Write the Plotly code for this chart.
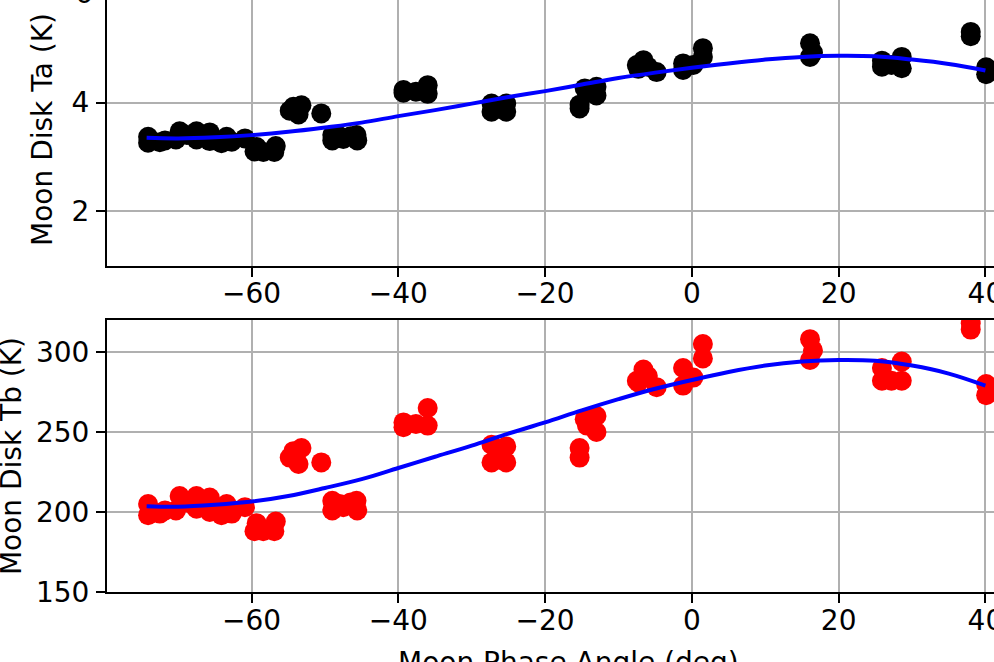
import plotly.graph_objects as go

# ---- data ----
phase = [-74.1, -74.1, -72.5, -71.8, -70.3, -69.8, -68.8, -67.5, -67.5, -66.5, -65.7, -65.7, -64.1, -63.4, -62.7, -60.9,
         -59.6, -59.3, -58.4, -56.9, -56.7,
         -54.8, -54.3, -53.6, -53.2, -50.5,
         -49.0, -49.0, -48.0, -47.5, -46.5, -45.7, -45.6,
         -39.3, -39.3, -37.6, -36.0, -36.0,
         -27.3, -27.3, -26.3, -25.3, -25.3,
         -15.3, -15.3,
         -14.6, -14.3, -13.0, -13.0,
         -7.5, -7.3, -6.6, -6.0, -4.8,
         -1.2, -1.2, 0.2,
         1.5, 1.5,
         16.1, 16.1, 16.5,
         25.9, 25.9, 27.2, 28.6, 28.6,
         38.0, 38.0,
         40.1, 40.1]
ta = [3.37, 3.26, 3.27, 3.30, 3.32, 3.47, 3.40, 3.47, 3.32, 3.38, 3.45, 3.29, 3.25, 3.37, 3.28, 3.34,
      3.10, 3.18, 3.09, 3.09, 3.20,
      3.85, 3.92, 3.78, 3.95, 3.80,
      3.40, 3.30, 3.38, 3.33, 3.38, 3.40, 3.30,
      4.23, 4.18, 4.20, 4.32, 4.16,
      3.98, 3.83, 3.90, 3.98, 3.83,
      3.89, 3.96,
      4.26, 4.18, 4.29, 4.13,
      4.69, 4.62, 4.78, 4.66, 4.56,
      4.72, 4.60, 4.69,
      5.00, 4.84,
      5.09, 4.84, 4.92,
      4.66, 4.77, 4.69, 4.84, 4.63,
      5.30, 5.22,
      4.65, 4.52]
tb = [205, 198, 199, 201, 201, 210, 206, 210, 202, 205, 209, 200, 198, 205, 199, 203,
      188, 193, 188, 188, 194,
      234, 238, 230, 240, 231,
      207, 201, 205, 203, 206, 207, 201,
      256, 253, 255, 265, 254,
      242, 231, 236, 241, 231,
      234, 240,
      258, 254, 260, 250,
      282, 281, 289, 285, 278,
      290, 279, 284,
      305, 296,
      308, 295, 301,
      282, 290, 282, 294, 282,
      318, 314,
      280, 273]

fit_phase = [-74.3, -70, -65, -60, -55, -50, -45, -40, -35, -30, -25, -20, -15, -10, -5, 0,
             5, 10, 15, 20, 25, 30, 35, 40]
fit_ta = [3.35, 3.34, 3.36, 3.40, 3.46, 3.54, 3.63, 3.75, 3.86, 3.98, 4.10, 4.21, 4.33, 4.45, 4.55, 4.64,
          4.72, 4.79, 4.84, 4.86, 4.85, 4.79, 4.71, 4.59]
fit_tb = [203.6, 203.3, 204.5, 206.5, 210, 215, 220.5, 227.5, 234.5, 241.5, 249, 256, 263.5, 270.5, 277, 282.5,
          287.5, 291.5, 294, 295, 294.5, 291.5, 286.5, 279]

x_ticks = [-60, -40, -20, 0, 20, 40]
x_ticktext = ["−60", "−40", "−20", "0", "20", "40"]
ta_ticks = [2, 4, 6]
tb_ticks = [150, 200, 250, 300]

x_range = [-79.7, 41.17]
ta_range = [1, 5.887]
tb_range = [150, 320]
top_dom = [0.5515, 1.0]
bot_dom = [0.0, 0.4595]

FONT = dict(family="DejaVu Sans", size=28, color="black")

fig = go.Figure()
fig.add_trace(go.Scatter(x=phase, y=ta, mode="markers", xaxis="x", yaxis="y",
                         marker=dict(color="black", size=20, line=dict(width=0)), showlegend=False))
fig.add_trace(go.Scatter(x=fit_phase, y=fit_ta, mode="lines", xaxis="x", yaxis="y",
                         line=dict(color="#0000ff", width=4, shape="spline"), showlegend=False))
fig.add_trace(go.Scatter(x=phase, y=tb, mode="markers", xaxis="x2", yaxis="y2",
                         marker=dict(color="#ff0000", size=20, line=dict(width=0)), showlegend=False))
fig.add_trace(go.Scatter(x=fit_phase, y=fit_tb, mode="lines", xaxis="x2", yaxis="y2",
                         line=dict(color="#0000ff", width=4, shape="spline"), showlegend=False))

axis_common = dict(showgrid=True, gridcolor="#b0b0b0", gridwidth=2, zeroline=False,
                   showline=True, linecolor="black", linewidth=2,
                   ticks="outside", ticklen=9, tickwidth=2, tickcolor="black",
                   tickfont=FONT, automargin=False, ticklabeloverflow="allow")

fig.update_layout(
    width=994, height=662,
    margin=dict(l=107, r=0, t=0, b=70),
    paper_bgcolor="white", plot_bgcolor="white",
    font=FONT,
    xaxis=dict(domain=[0, 1], range=x_range, anchor="y", tickvals=x_ticks, ticktext=x_ticktext,
               ticklabelstandoff=-7, **axis_common),
    yaxis=dict(domain=top_dom, range=ta_range, anchor="x", tickvals=ta_ticks,
               ticklabelstandoff=1, **axis_common),
    xaxis2=dict(domain=[0, 1], range=x_range, anchor="y2", tickvals=x_ticks, ticktext=x_ticktext,
                mirror=True, ticklabelstandoff=-7, **axis_common),
    yaxis2=dict(domain=bot_dom, range=tb_range, anchor="x2", tickvals=tb_ticks,
                ticklabelstandoff=1, **axis_common),
)

# partially visible "6" tick label above the top panel
six_y = top_dom[0] + (6 - ta_range[0]) / (ta_range[1] - ta_range[0]) * (top_dom[1] - top_dom[0])
fig.add_annotation(text="6", xref="paper", yref="paper", x=-0.0135, y=six_y,
                   xanchor="right", yanchor="middle", showarrow=False, font=FONT)

fig.add_annotation(text="Moon Disk Ta (K)", xref="paper", yref="paper", x=-0.072,
                   y=(top_dom[0] + 1.0) / 2 + 0.005, textangle=-90, showarrow=False,
                   xanchor="center", yanchor="middle", font=FONT)
fig.add_annotation(text="Moon Disk Tb (K)", xref="paper", yref="paper", x=-0.107,
                   y=(bot_dom[0] + bot_dom[1]) / 2, textangle=-90, showarrow=False,
                   xanchor="center", yanchor="middle", font=FONT)
fig.add_annotation(text="Moon Phase Angle (deg)", xref="paper", yref="paper", x=0.52,
                   y=-0.088, xanchor="center", yanchor="top", showarrow=False, font=FONT)

fig.write_html("out.html", config={"displayModeBar": False},
               post_script="document.body.style.margin='0';document.body.style.overflow='hidden';")
